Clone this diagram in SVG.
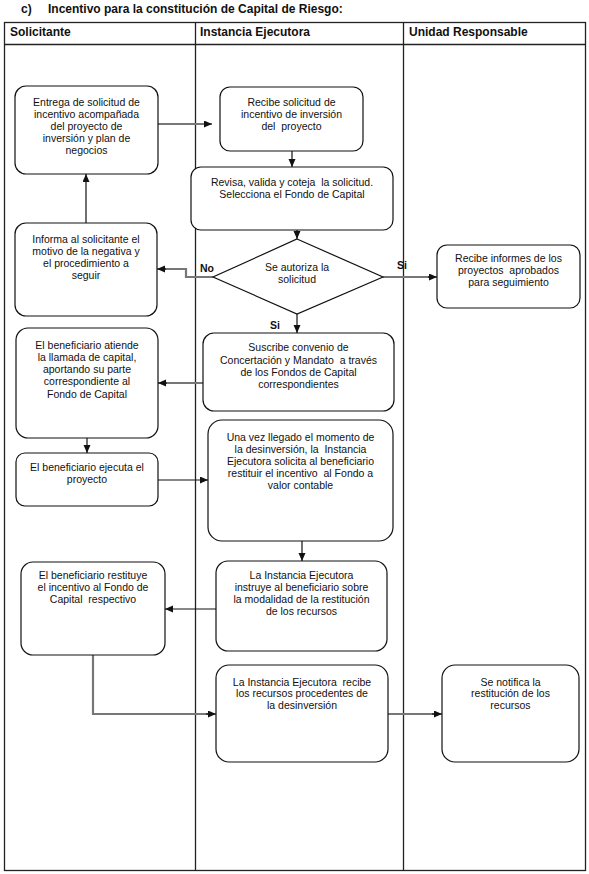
<svg xmlns="http://www.w3.org/2000/svg" width="589" height="874" viewBox="0 0 589 874">
<style>
.t{font-family:"Liberation Sans",Arial,sans-serif;font-size:10.5px;fill:#111;text-anchor:middle}
.h{font-family:"Liberation Sans",Arial,sans-serif;font-size:12px;font-weight:bold;fill:#111}
.lb{font-family:"Liberation Sans",Arial,sans-serif;font-size:10.5px;font-weight:bold;fill:#111}
.box{fill:#fff;stroke:#111;stroke-width:1.2}
.grid{fill:none;stroke:#222;stroke-width:1.3}
.c{fill:none;stroke:#111;stroke-width:1.2}
.d{fill:none;stroke:#777;stroke-width:2.2}
</style>
<defs>
<marker id="ah" markerUnits="userSpaceOnUse" markerWidth="9" markerHeight="8" refX="8" refY="3.5" orient="auto">
<path d="M0,0 L8,3.5 L0,7 z" fill="#111"/>
</marker>
</defs>
<rect width="589" height="874" fill="#fff"/>
<g id="title">
<text class="h" x="21" y="13">c)</text>
<text class="h" x="48" y="13">Incentivo para la constitución de Capital de Riesgo:</text>
</g>
<g id="table">
<rect class="grid" x="4.5" y="22.5" width="581" height="848"/>
<line class="grid" x1="4.5" y1="44.5" x2="585.5" y2="44.5"/>
<line class="grid" x1="195.5" y1="22.5" x2="195.5" y2="870.5"/>
<line class="grid" x1="403.5" y1="22.5" x2="403.5" y2="870.5"/>
<text class="h" x="10" y="36">Solicitante</text>
<text class="h" x="200" y="36">Instancia Ejecutora</text>
<text class="h" x="409" y="36">Unidad Responsable</text>
</g>
<g id="connectors">
<path class="d" d="M158,124 H212" marker-end="url(#ah)"/>
<path class="c" d="M86,223 V174" marker-end="url(#ah)"/>
<path class="c" d="M292,151 V167" marker-end="url(#ah)"/>
<path class="c" d="M297,230 V239" marker-end="url(#ah)"/>
<path class="d" d="M213,277 H186 V269 H165"/>
<path class="c" d="M166,269 H157" marker-end="url(#ah)"/>
<path class="d" d="M383,277 H430"/>
<path class="c" d="M428,277 H437" marker-end="url(#ah)"/>
<path class="c" d="M297,314 V333" marker-end="url(#ah)"/>
<path class="d" d="M203,383 H166"/>
<path class="c" d="M167,383 H158" marker-end="url(#ah)"/>
<path class="c" d="M87,438 V453" marker-end="url(#ah)"/>
<path class="c" d="M158,480 H208" marker-end="url(#ah)"/>
<path class="c" d="M302,541 V561" marker-end="url(#ah)"/>
<path class="c" d="M216,609 H165" marker-end="url(#ah)"/>
<path class="d" d="M93,655 V714 H208"/>
<path class="c" d="M206,714 H216" marker-end="url(#ah)"/>
<path class="d" d="M388,714 H434"/>
<path class="c" d="M432,714 H442" marker-end="url(#ah)"/>
</g>
<g id="n_entrega">
<rect class="box" x="15" y="86" width="143" height="88" rx="11"/>
<text class="t" x="86.5" y="106">Entrega de solicitud de</text>
<text class="t" x="86.5" y="118">incentivo acompañada</text>
<text class="t" x="86.5" y="130">del proyecto de</text>
<text class="t" x="86.5" y="142">inversión y plan de</text>
<text class="t" x="86.5" y="154">negocios</text>
</g>
<g id="n_recibe">
<rect class="box" x="220" y="87" width="143" height="64" rx="10"/>
<text class="t" x="291.5" y="106">Recibe solicitud de</text>
<text class="t" x="291.5" y="118">incentivo de inversión</text>
<text class="t" x="291.5" y="130" xml:space="preserve">del  proyecto</text>
</g>
<g id="n_revisa">
<rect class="box" x="191" y="167" width="202" height="63" rx="10"/>
<text class="t" x="292" y="186" xml:space="preserve">Revisa, valida y coteja  la solicitud.</text>
<text class="t" x="292" y="198">Selecciona el Fondo de Capital</text>
</g>
<g id="n_decision">
<polygon class="box" points="297,239 383,277 297,314 213,277"/>
<text class="t" x="297" y="270.5">Se autoriza la</text>
<text class="t" x="297" y="282.5">solicitud</text>
<text class="lb" x="200" y="272">No</text>
<text class="lb" x="397" y="269">Si</text>
<text class="lb" x="270" y="329">Si</text>
</g>
<g id="n_informa">
<rect class="box" x="15" y="223" width="142" height="93" rx="11"/>
<text class="t" x="86" y="243">Informa al solicitante el</text>
<text class="t" x="86" y="255">motivo de la negativa y</text>
<text class="t" x="86" y="267">el procedimiento a</text>
<text class="t" x="86" y="279">seguir</text>
</g>
<g id="n_informes">
<rect class="box" x="437" y="245" width="143" height="63" rx="10"/>
<text class="t" x="508.5" y="262">Recibe informes de los</text>
<text class="t" x="508.5" y="274" xml:space="preserve">proyectos  aprobados</text>
<text class="t" x="508.5" y="286">para seguimiento</text>
</g>
<g id="n_suscribe">
<rect class="box" x="203" y="333" width="191" height="78" rx="11"/>
<text class="t" x="298.5" y="351">Suscribe convenio de</text>
<text class="t" x="298.5" y="363.5" xml:space="preserve">Concertación y Mandato  a través</text>
<text class="t" x="298.5" y="375.5">de los Fondos de Capital</text>
<text class="t" x="298.5" y="388">correspondientes</text>
</g>
<g id="n_atiende">
<rect class="box" x="16" y="328" width="142" height="110" rx="12"/>
<text class="t" x="87" y="349">El beneficiario atiende</text>
<text class="t" x="87" y="361">la llamada de capital,</text>
<text class="t" x="87" y="373">aportando su parte</text>
<text class="t" x="87" y="385">correspondiente al</text>
<text class="t" x="87" y="397.5">Fondo de Capital</text>
</g>
<g id="n_ejecuta">
<rect class="box" x="16" y="453" width="142" height="53" rx="9"/>
<text class="t" x="87" y="470.5">El beneficiario ejecuta el</text>
<text class="t" x="87" y="483">proyecto</text>
</g>
<g id="n_unavez">
<rect class="box" x="208" y="420" width="185" height="121" rx="14"/>
<text class="t" x="300.5" y="441">Una vez llegado el momento de</text>
<text class="t" x="300.5" y="453" xml:space="preserve">la desinversión, la  Instancia</text>
<text class="t" x="300.5" y="465">Ejecutora solicita al beneficiario</text>
<text class="t" x="300.5" y="477" xml:space="preserve">restituir el incentivo  al Fondo a</text>
<text class="t" x="300.5" y="489">valor contable</text>
</g>
<g id="n_instruye">
<rect class="box" x="216" y="561" width="171" height="90" rx="12"/>
<text class="t" x="301.5" y="579">La Instancia Ejecutora</text>
<text class="t" x="301.5" y="591">instruye al beneficiario sobre</text>
<text class="t" x="301.5" y="603">la modalidad de la restitución</text>
<text class="t" x="301.5" y="615">de los recursos</text>
</g>
<g id="n_restituye">
<rect class="box" x="21" y="562" width="144" height="93" rx="12"/>
<text class="t" x="93" y="579">El beneficiario restituye</text>
<text class="t" x="93" y="591">el incentivo al Fondo de</text>
<text class="t" x="93" y="603" xml:space="preserve">Capital  respectivo</text>
</g>
<g id="n_recibe_rec">
<rect class="box" x="216" y="665" width="172" height="97" rx="13"/>
<text class="t" x="302" y="685.5" xml:space="preserve">La Instancia Ejecutora  recibe</text>
<text class="t" x="302" y="697">los recursos procedentes de</text>
<text class="t" x="302" y="709">la desinversión</text>
</g>
<g id="n_notifica">
<rect class="box" x="442" y="665" width="137" height="97" rx="13"/>
<text class="t" x="510.5" y="685.5">Se notifica la</text>
<text class="t" x="510.5" y="697">restitución de los</text>
<text class="t" x="510.5" y="709">recursos</text>
</g>
</svg>
